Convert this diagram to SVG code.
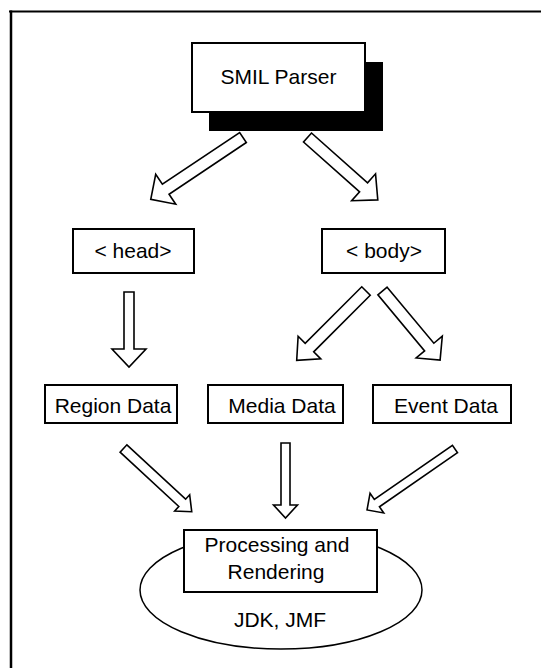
<svg xmlns="http://www.w3.org/2000/svg" width="541" height="668" viewBox="0 0 541 668">
<style>
.box{fill:#fff;stroke:#000;stroke-width:2}
.arr{fill:#fff;stroke:#000;stroke-width:1.6;stroke-linejoin:miter}
text{font-family:"Liberation Sans",Arial,sans-serif;font-size:21px;fill:#000;text-anchor:middle}
</style>
<rect width="541" height="668" fill="#fff"/>
<g id="frame">
<line x1="9" y1="11.5" x2="541" y2="11.5" stroke="#000" stroke-width="2"/>
<line x1="11" y1="10.5" x2="11" y2="668" stroke="#000" stroke-width="2.5"/>
</g>
<g id="connectors">
<path class="arr" transform="translate(243,137.5) rotate(146.2)" d="M0,-6 H93 V-18 L111,0 L93,18 V6 H0 Z"/>
<path class="arr" transform="translate(307.5,137.5) rotate(41.6)" d="M0,-6 H75 V-18 L94,0 L75,18 V6 H0 Z"/>
<path class="arr" transform="translate(129,292) rotate(90)" d="M0,-5 H57 V-17 L75,0 L57,17 V5 H0 Z"/>
<path class="arr" transform="translate(366,291) rotate(135)" d="M0,-6 H80 V-16 L98,0 L80,16 V6 H0 Z"/>
<path class="arr" transform="translate(382.5,291) rotate(50.2)" d="M0,-6 H73 V-17 L90,0 L73,17 V6 H0 Z"/>
<path class="arr" transform="translate(123.5,448.5) rotate(42.8)" d="M0,-5 H80 V-11 L93,0 L80,11 V5 H0 Z"/>
<path class="arr" transform="translate(285.5,443) rotate(90)" d="M0,-4.5 H62 V-12 L75,0 L62,12 V4.5 H0 Z"/>
<path class="arr" transform="translate(455,449) rotate(145.3)" d="M0,-4.5 H95 V-12 L107,0 L95,12 V4.5 H0 Z"/>
</g>
<g id="smil-parser">
<rect x="209" y="62" width="174" height="69" fill="#000"/>
<rect class="box" x="192" y="43" width="173" height="69"/>
<text x="278.5" y="84">SMIL Parser</text>
</g>
<g id="head">
<rect class="box" x="73" y="229" width="121" height="44"/>
<text x="133" y="258">&lt; head&gt;</text>
</g>
<g id="body">
<rect class="box" x="322" y="229" width="123" height="44"/>
<text x="384" y="258">&lt; body&gt;</text>
</g>
<g id="region-data">
<rect class="box" x="45" y="385" width="132" height="38"/>
<text x="113" y="413">Region Data</text>
</g>
<g id="media-data">
<rect class="box" x="208" y="385" width="135" height="38"/>
<text x="282" y="413">Media Data</text>
</g>
<g id="event-data">
<rect class="box" x="373" y="385" width="138" height="38"/>
<text x="446" y="413">Event Data</text>
</g>
<g id="processing">
<ellipse cx="281" cy="590" rx="141" ry="59" fill="#fff" stroke="#000" stroke-width="1.5"/>
<rect class="box" x="184" y="530" width="193" height="62"/>
<text x="277" y="552">Processing and</text>
<text x="276" y="579">Rendering</text>
<text x="280" y="627">JDK, JMF</text>
</g>
</svg>
